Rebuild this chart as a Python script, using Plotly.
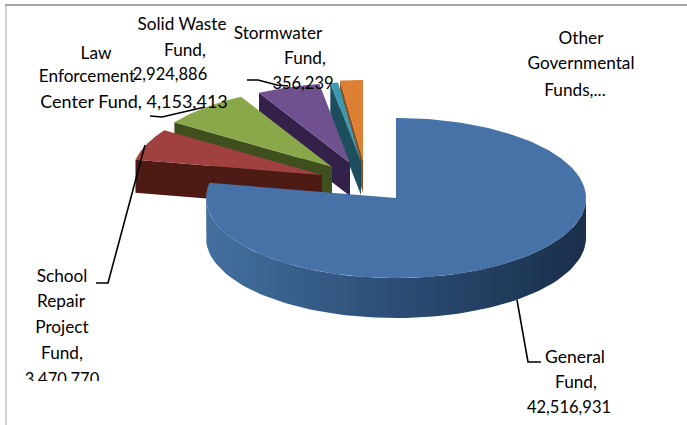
import numpy as np
import plotly.graph_objects as go

# ---- data ----
funds = ["General Fund", "School Repair Project Fund", "Law Enforcement Center Fund",
         "Solid Waste Fund", "Stormwater Fund", "Other Governmental Funds"]
amounts = [42516931, 3470770, 4153413, 2924886, 356239, 1050000]

label_lines = ["General", "Fund,", "42,516,931",
               "School", "Repair", "Project", "Fund,", "3,470,770",
               "Law", "Enforcement", "Center Fund, 4,153,413",
               "Solid Waste", "Fund,", "2,924,886",
               "Stormwater", "Fund,", "356,239",
               "Other", "Governmental", "Funds,..."]

# ---- layout / style ----
label_x = [575, 576, 569, 62, 61, 62, 62, 62, 96, 87, 134, 182, 185, 170, 278, 305, 303, 581, 581, 575]
label_y = [359, 384, 409, 278, 303, 329, 355, 381, 55, 78, 103, 26, 52, 76, 35, 60, 85, 40, 65, 92]
label_sizes = [17.5, 17.2, 16.5, 17.2, 17.2, 17.2, 17.2, 16.5, 17.2, 17.2, 18,
               17.2, 17.2, 16.5, 17.2, 17.2, 16.5, 17.2, 17.2, 17.2]
apex_x = [396, 322, 332, 350, 361, 363]
apex_y = [198, 175, 167, 163, 162, 160]
top_colors = ["#4672a8", "#a04040", "#8aa84a", "#70518f", "#3b9ab0", "#dd8033"]
side_colors = ["#2b4d75", "#4d1a14", "#3f4f1d", "#33214a", "#1c4e5e", "#8a5020"]
RX, RY, DEPTH = 190, 80, 40
WEDGE_DEPTH = 33
leaders = [([517, 528, 541], [300, 362, 362]),
           ([145, 108, 96], [145, 283, 283]),
           ([150, 162, 205], [116, 117, 107]),
           ([247, 258, 277, 288], [80, 80, 85, 86])]

total = sum(amounts)
sweeps = [a / total * 360 for a in amounts]
starts = np.cumsum([0] + sweeps[:-1])


def arc(cx, cy, a0, a1, n=80):
    th = np.radians(np.linspace(a0, a1, n))
    return cx + RX * np.sin(th), cy - RY * np.cos(th)


fig = go.Figure()


def poly(xs, ys, color, name, **kw):
    fig.add_trace(go.Scatter(x=list(xs), y=list(ys), mode="lines", fill="toself",
                             fillcolor=color, line=dict(width=0, color=color),
                             name=name, hoverinfo="name", showlegend=False, **kw))


# exploded wedges, back to front
for i in range(5, 0, -1):
    cx, cy = apex_x[i], apex_y[i]
    ax, ay = arc(cx, cy, starts[i], starts[i] + sweeps[i])
    sx = [ax[0], cx, cx, ax[0]]
    sy = [ay[0], cy, cy + WEDGE_DEPTH, ay[0] + WEDGE_DEPTH]
    poly(sx, sy, side_colors[i], funds[i])
    poly(np.r_[cx, ax], np.r_[cy, ay], top_colors[i], funds[i])

# general fund wedge
cx, cy = apex_x[0], apex_y[0]
fx, fy = arc(cx, cy, 90, 271)
fig.add_trace(go.Scatter(
    x=np.r_[fx, fx[::-1]], y=np.r_[fy, fy[::-1] + DEPTH], mode="lines", fill="toself",
    line=dict(width=0), hoverinfo="skip", showlegend=False,
    fillgradient=dict(type="horizontal",
                      colorscale=[[0, "#44709f"], [0.5, "#2b4d75"], [1, "#1a2f4a"]])))
ax, ay = arc(cx, cy, starts[0], starts[0] + sweeps[0], 240)
poly(np.r_[cx, ax], np.r_[cy, ay], top_colors[0], funds[0])

# leader lines
for lx, ly in leaders:
    fig.add_trace(go.Scatter(x=lx, y=ly, mode="lines", line=dict(color="black", width=1.6),
                             hoverinfo="skip", showlegend=False))

# labels
fig.add_trace(go.Scatter(x=label_x, y=label_y, mode="text", text=label_lines,
                         textposition="middle center", hoverinfo="skip", showlegend=False,
                         textfont=dict(family="Lato", size=label_sizes, color="black")))

fig.update_layout(
    width=687, height=425, autosize=False,
    margin=dict(l=0, r=0, t=0, b=0),
    paper_bgcolor="white", plot_bgcolor="white",
    xaxis=dict(range=[0, 687], visible=False, fixedrange=True),
    yaxis=dict(range=[425, 0], visible=False, fixedrange=True),
    shapes=[
        dict(type="rect", x0=15, x1=110, y0=381, y1=396, layer="above",
             fillcolor="white", line=dict(width=0)),
        dict(type="line", x0=5, x1=687, y0=5, y1=5, layer="above",
             line=dict(color="#a6a6a6", width=2)),
        dict(type="line", x0=6, x1=6, y0=5, y1=425, layer="above",
             line=dict(color="#a6a6a6", width=1)),
    ],
)
fig.write_html("out.html", config={"displayModeBar": False},
               post_script="document.body.style.margin='0';document.documentElement.style.overflow='hidden';")
